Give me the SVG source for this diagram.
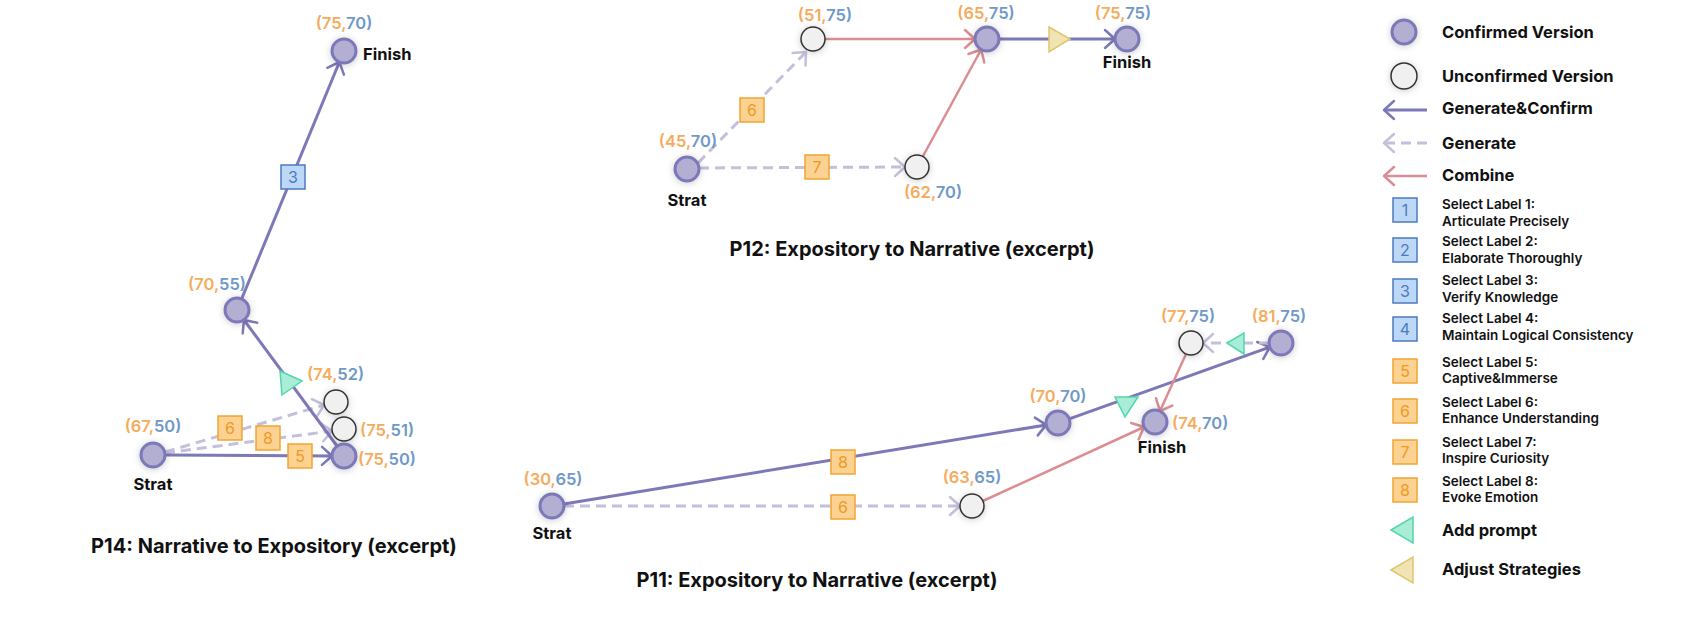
<svg xmlns="http://www.w3.org/2000/svg" width="1690" height="640" viewBox="0 0 1690 640">
<style>
text{font-family:Inter,"Noto Sans","Liberation Sans",sans-serif}
.c{font-size:16.5px;font-weight:600;text-anchor:middle}
.cs{font-size:16.5px;font-weight:600}
.o{fill:#f6ab5c}
.b{fill:#7099c8}
.nm{font-size:16.5px;font-weight:700;fill:#111}
.ttl{font-size:20px;font-weight:700;fill:#111;text-anchor:middle}
.cf{fill:#b3afd3;stroke:#7d78b8;stroke-width:3}
.uc{fill:#f0f0f0;stroke:#333;stroke-width:1.5}
.gc{stroke:#7d78b8;stroke-width:3;fill:none}
.gn{stroke:#c4c0dc;stroke-width:3;fill:none;stroke-dasharray:10 6}
.cb{stroke:#db8d92;stroke-width:2.5;fill:none}
.ob{fill:#fbd291;stroke:#f2a432;stroke-width:1.5}
.bb{fill:#bdd8f6;stroke:#4c7bc0;stroke-width:1.5}
.ot{fill:#ee9a25;font-size:16px;text-anchor:middle}
.bt{fill:#4c7bc0;font-size:16px;text-anchor:middle}
.ap{fill:#a9ecd7;stroke:#54d6ab;stroke-width:1.5}
.as{fill:#f1e4b4;stroke:#e1c56e;stroke-width:1.5}
.lg{font-size:16.5px;font-weight:700;fill:#111}
.ls{font-size:13.5px;font-weight:600;fill:#111}
</style>
<defs>
<filter id="sh" x="-80%" y="-80%" width="260%" height="260%"><feDropShadow dx="0" dy="1" stdDeviation="3.5" flood-color="#000" flood-opacity="0.2"/></filter>
<marker id="mP" viewBox="0 0 14 24" refX="12" refY="12" markerWidth="14" markerHeight="24" markerUnits="userSpaceOnUse" orient="auto"><path d="M2,3 L12,12 L2,21" fill="none" stroke="#7d78b8" stroke-width="2.5" stroke-linecap="round" stroke-linejoin="round"/></marker>
<marker id="mG" viewBox="0 0 14 24" refX="12" refY="12" markerWidth="14" markerHeight="24" markerUnits="userSpaceOnUse" orient="auto"><path d="M2,3 L12,12 L2,21" fill="none" stroke="#c4c0dc" stroke-width="2.5" stroke-linecap="round" stroke-linejoin="round"/></marker>
<marker id="mR" viewBox="0 0 14 24" refX="12" refY="12" markerWidth="14" markerHeight="24" markerUnits="userSpaceOnUse" orient="auto"><path d="M2,3 L12,12 L2,21" fill="none" stroke="#db8d92" stroke-width="2.5" stroke-linecap="round" stroke-linejoin="round"/></marker>
</defs>
<rect width="1690" height="640" fill="#fff"/>

<g id="connectors">
<!-- P14 -->
<line class="gn" x1="165" y1="452" x2="324" y2="405" marker-end="url(#mG)"/>
<line class="gn" x1="165" y1="453" x2="332" y2="431" marker-end="url(#mG)"/>
<line class="gc" x1="165" y1="455" x2="332" y2="456" marker-end="url(#mP)"/>
<line class="gc" x1="337" y1="446" x2="244" y2="320" marker-end="url(#mP)"/>
<line class="gc" x1="241.6" y1="299" x2="339.4" y2="62" marker-end="url(#mP)"/>
<!-- P12 -->
<line class="gn" x1="698" y1="163" x2="806" y2="52" marker-end="url(#mG)"/>
<line class="gn" x1="699" y1="168" x2="905" y2="167" marker-end="url(#mG)"/>
<line class="cb" x1="825" y1="39" x2="975" y2="39" marker-end="url(#mR)"/>
<line class="cb" x1="922.8" y1="156.5" x2="981.2" y2="49.5" marker-end="url(#mR)"/>
<line class="gc" x1="999" y1="39" x2="1115" y2="39" marker-end="url(#mP)"/>
<!-- P11 -->
<line class="gn" x1="564" y1="506" x2="960" y2="506" marker-end="url(#mG)"/>
<line class="gc" x1="563.8" y1="504.1" x2="1046.2" y2="424.9" marker-end="url(#mP)"/>
<line class="cb" x1="982.9" y1="501" x2="1144" y2="427" marker-end="url(#mR)"/>
<line class="gc" x1="1069.3" y1="418.9" x2="1269.7" y2="347.1" marker-end="url(#mP)"/>
<line class="cb" x1="1186" y1="354" x2="1160" y2="411" marker-end="url(#mR)"/>
<line class="gn" x1="1269" y1="343" x2="1203" y2="343" marker-end="url(#mG)"/>
</g>

<g id="p14-labels">
<rect class="bb" x="281" y="165" width="24" height="24"/><text class="bt" x="293" y="183">3</text>
<rect class="ob" x="218" y="416" width="24" height="24"/><text class="ot" x="230" y="434">6</text>
<rect class="ob" x="256" y="426" width="24" height="24"/><text class="ot" x="268" y="444">8</text>
<rect class="ob" x="288" y="444" width="24" height="24"/><text class="ot" x="300" y="462">5</text>
<polygon class="ap" points="280,371 302,381 282,395"/>
</g>
<g id="p14-start"><circle class="cf" cx="153" cy="455" r="12" filter="url(#sh)"/><text class="c" x="153" y="432"><tspan class="o">(67,</tspan><tspan class="b">50)</tspan></text><text class="nm" x="153" y="490" text-anchor="middle">Strat</text></g>
<g id="p14-n7552"><circle class="uc" cx="336" cy="402" r="12" filter="url(#sh)"/><text class="cs" x="307" y="380"><tspan class="o">(74,</tspan><tspan class="b">52)</tspan></text></g>
<g id="p14-n7551"><circle class="uc" cx="344" cy="429" r="12" filter="url(#sh)"/><text class="cs" x="360" y="436"><tspan class="o">(75,</tspan><tspan class="b">51)</tspan></text></g>
<g id="p14-n7550"><circle class="cf" cx="344" cy="456" r="12" filter="url(#sh)"/><text class="cs" x="358" y="465"><tspan class="o">(75,</tspan><tspan class="b">50)</tspan></text></g>
<g id="p14-n7055"><circle class="cf" cx="237" cy="310" r="12" filter="url(#sh)"/><text class="c" x="217" y="290"><tspan class="o">(70,</tspan><tspan class="b">55)</tspan></text></g>
<g id="p14-finish"><circle class="cf" cx="344" cy="51" r="12" filter="url(#sh)"/><text class="c" x="344" y="29"><tspan class="o">(75,</tspan><tspan class="b">70)</tspan></text><text class="nm" x="363" y="60">Finish</text></g>
<text class="ttl" x="274" y="553">P14: Narrative to Expository (excerpt)</text>

<g id="p12-labels">
<rect class="ob" x="740" y="98" width="24" height="24"/><text class="ot" x="752" y="116">6</text>
<rect class="ob" x="805" y="155" width="24" height="24"/><text class="ot" x="817" y="173">7</text>
<polygon class="as" points="1049,27 1070,39 1049,52"/>
</g>
<g id="p12-start"><circle class="cf" cx="687" cy="169" r="12" filter="url(#sh)"/><text class="c" x="688" y="147"><tspan class="o">(45,</tspan><tspan class="b">70)</tspan></text><text class="nm" x="687" y="206" text-anchor="middle">Strat</text></g>
<g id="p12-n5175"><circle class="uc" cx="813" cy="39" r="12" filter="url(#sh)"/><text class="c" x="825" y="21"><tspan class="o">(51,</tspan><tspan class="b">75)</tspan></text></g>
<g id="p12-n6270"><circle class="uc" cx="917" cy="167" r="12" filter="url(#sh)"/><text class="c" x="933" y="198"><tspan class="o">(62,</tspan><tspan class="b">70)</tspan></text></g>
<g id="p12-n6575"><circle class="cf" cx="987" cy="39" r="12" filter="url(#sh)"/><text class="c" x="986" y="19"><tspan class="o">(65,</tspan><tspan class="b">75)</tspan></text></g>
<g id="p12-finish"><circle class="cf" cx="1127" cy="39" r="12" filter="url(#sh)"/><text class="c" x="1123" y="19"><tspan class="o">(75,</tspan><tspan class="b">75)</tspan></text><text class="nm" x="1127" y="68" text-anchor="middle">Finish</text></g>
<text class="ttl" x="912" y="256">P12: Expository to Narrative (excerpt)</text>

<g id="p11-labels">
<rect class="ob" x="831" y="450" width="24" height="24"/><text class="ot" x="843" y="468">8</text>
<rect class="ob" x="831" y="495" width="24" height="24"/><text class="ot" x="843" y="513">6</text>
<polygon class="ap" points="1115,397 1138,397 1125,417"/>
<polygon class="ap" points="1227,343 1244,333 1244,354"/>
</g>
<g id="p11-start"><circle class="cf" cx="552" cy="506" r="12" filter="url(#sh)"/><text class="c" x="553" y="485"><tspan class="o">(30,</tspan><tspan class="b">65)</tspan></text><text class="nm" x="552" y="539" text-anchor="middle">Strat</text></g>
<g id="p11-n6365"><circle class="uc" cx="972" cy="506" r="12" filter="url(#sh)"/><text class="c" x="972" y="483"><tspan class="o">(63,</tspan><tspan class="b">65)</tspan></text></g>
<g id="p11-n7070"><circle class="cf" cx="1058" cy="423" r="12" filter="url(#sh)"/><text class="c" x="1058" y="402"><tspan class="o">(70,</tspan><tspan class="b">70)</tspan></text></g>
<g id="p11-finish"><circle class="cf" cx="1155" cy="422" r="12" filter="url(#sh)"/><text class="cs" x="1172" y="429"><tspan class="o">(74,</tspan><tspan class="b">70)</tspan></text><text class="nm" x="1162" y="453" text-anchor="middle">Finish</text></g>
<g id="p11-n7775"><circle class="uc" cx="1191" cy="343" r="12" filter="url(#sh)"/><text class="c" x="1188" y="322"><tspan class="o">(77,</tspan><tspan class="b">75)</tspan></text></g>
<g id="p11-n8175"><circle class="cf" cx="1281" cy="343" r="12" filter="url(#sh)"/><text class="c" x="1279" y="322"><tspan class="o">(81,</tspan><tspan class="b">75)</tspan></text></g>
<text class="ttl" x="817" y="587">P11: Expository to Narrative (excerpt)</text>

<g id="legend">
<circle class="cf" cx="1404" cy="32" r="12" filter="url(#sh)"/><text class="lg" x="1442" y="38">Confirmed Version</text>
<circle class="uc" cx="1404" cy="76" r="13" filter="url(#sh)"/><text class="lg" x="1442" y="82">Unconfirmed Version</text>
<line class="gc" x1="1427" y1="110" x2="1384" y2="110" marker-end="url(#mP)"/><text class="lg" x="1442" y="114">Generate&amp;Confirm</text>
<line class="gn" x1="1427" y1="143" x2="1384" y2="143" marker-end="url(#mG)" stroke-dasharray="8 6"/><text class="lg" x="1442" y="149">Generate</text>
<line class="cb" x1="1427" y1="176" x2="1384" y2="176" marker-end="url(#mR)"/><text class="lg" x="1442" y="181">Combine</text>
<rect class="bb" x="1393" y="198" width="24" height="24"/><text class="bt" x="1405" y="216">1</text>
<text class="ls" x="1442" y="209">Select Label 1:</text><text class="ls" x="1442" y="226">Articulate Precisely</text>
<rect class="bb" x="1393" y="238" width="24" height="24"/><text class="bt" x="1405" y="256">2</text>
<text class="ls" x="1442" y="246">Select Label 2:</text><text class="ls" x="1442" y="263">Elaborate Thoroughly</text>
<rect class="bb" x="1393" y="279" width="24" height="24"/><text class="bt" x="1405" y="297">3</text>
<text class="ls" x="1442" y="285">Select Label 3:</text><text class="ls" x="1442" y="302">Verify Knowledge</text>
<rect class="bb" x="1393" y="317" width="24" height="24"/><text class="bt" x="1405" y="335">4</text>
<text class="ls" x="1442" y="323">Select Label 4:</text><text class="ls" x="1442" y="340">Maintain Logical Consistency</text>
<rect class="ob" x="1393" y="359" width="24" height="24"/><text class="ot" x="1405" y="377">5</text>
<text class="ls" x="1442" y="367">Select Label 5:</text><text class="ls" x="1442" y="383">Captive&amp;Immerse</text>
<rect class="ob" x="1393" y="399" width="24" height="24"/><text class="ot" x="1405" y="417">6</text>
<text class="ls" x="1442" y="407">Select Label 6:</text><text class="ls" x="1442" y="423">Enhance Understanding</text>
<rect class="ob" x="1393" y="440" width="24" height="24"/><text class="ot" x="1405" y="458">7</text>
<text class="ls" x="1442" y="447">Select Label 7:</text><text class="ls" x="1442" y="463">Inspire Curiosity</text>
<rect class="ob" x="1393" y="478" width="24" height="24"/><text class="ot" x="1405" y="496">8</text>
<text class="ls" x="1442" y="486">Select Label 8:</text><text class="ls" x="1442" y="502">Evoke Emotion</text>
<polygon class="ap" points="1391,530 1413,517 1413,543"/><text class="lg" x="1442" y="536">Add prompt</text>
<polygon class="as" points="1391,570 1413,557 1413,583"/><text class="lg" x="1442" y="575">Adjust Strategies</text>
</g>
</svg>
